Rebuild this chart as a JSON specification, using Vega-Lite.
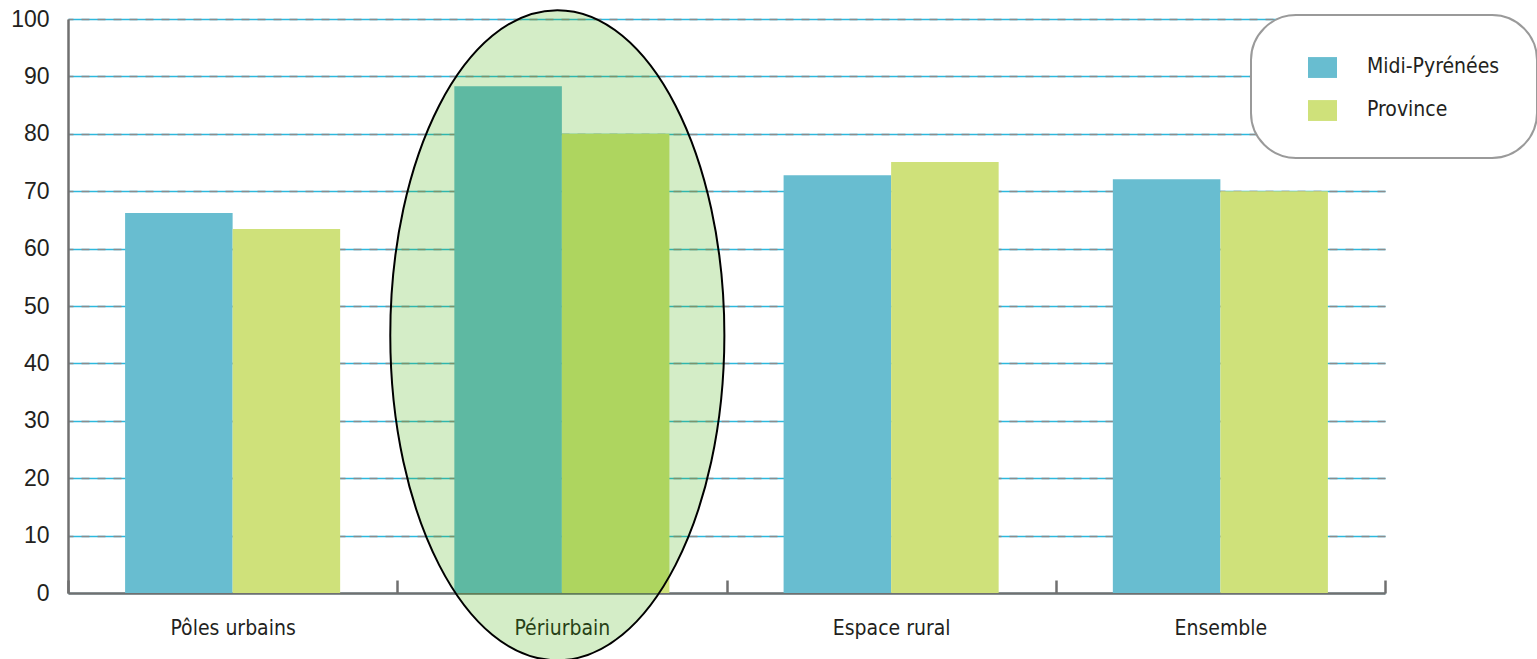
{
  "$schema": "https://vega.github.io/schema/vega-lite/v6.json",
  "width": 1317,
  "height": 574,
  "autosize": "none",
  "padding": {"left": 68, "top": 19, "right": 152, "bottom": 66},
  "background": "white",
  "datasets": {
    "bars": [
      {"category": "Pôles urbains", "series": "Midi-Pyrénées", "value": 66.2},
      {"category": "Pôles urbains", "series": "Province", "value": 63.4},
      {"category": "Périurbain", "series": "Midi-Pyrénées", "value": 88.3},
      {"category": "Périurbain", "series": "Province", "value": 80.0},
      {"category": "Espace rural", "series": "Midi-Pyrénées", "value": 72.8},
      {"category": "Espace rural", "series": "Province", "value": 75.1},
      {"category": "Ensemble", "series": "Midi-Pyrénées", "value": 72.1},
      {"category": "Ensemble", "series": "Province", "value": 70.0}
    ],
    "highlight": [
      {"category": "Périurbain", "value": 44.9}
    ]
  },
  "layer": [
    {
      "data": {"name": "bars"},
      "mark": {"type": "bar"},
      "encoding": {
        "x": {
          "field": "category",
          "type": "nominal",
          "sort": ["Pôles urbains", "Périurbain", "Espace rural", "Ensemble"],
          "scale": {"paddingInner": 0, "paddingOuter": 0},
          "axis": {
            "title": null,
            "labelAngle": 0,
            "labelFont": "Liberation Sans Narrow, DejaVu Sans Condensed, sans-serif",
            "labelFontSize": 21,
            "labelColor": "#231F20",
            "labelPadding": 37,
            "domainColor": "#707070",
            "domainWidth": 2.5,
            "tickColor": "#707070",
            "tickWidth": 2.5,
            "tickSize": -13,
            "tickBand": "extent",
            "grid": false
          }
        },
        "xOffset": {
          "field": "series",
          "type": "nominal",
          "sort": ["Midi-Pyrénées", "Province"],
          "scale": {"paddingInner": 0, "paddingOuter": 0.531}
        },
        "y": {
          "field": "value",
          "type": "quantitative",
          "scale": {"domain": [0, 100], "nice": false},
          "axis": {
            "title": null,
            "values": [0, 10, 20, 30, 40, 50, 60, 70, 80, 90, 100],
            "labelFont": "Liberation Sans, Arial, sans-serif",
            "labelFontSize": 23,
            "labelColor": "#231F20",
            "labelPadding": 19,
            "ticks": false,
            "domainColor": "#707070",
            "domainWidth": 2.5,
            "grid": true,
            "gridColor": "#2BB9DE",
            "gridWidth": 1.5
          }
        },
        "color": {
          "field": "series",
          "type": "nominal",
          "scale": {"domain": ["Midi-Pyrénées", "Province"], "range": ["#68BDD0", "#CFE17A"]},
          "legend": {
            "title": null,
            "orient": "none",
            "legendX": 1183,
            "legendY": -4,
            "direction": "vertical",
            "strokeColor": "#9a9a9a",
            "fillColor": "white",
            "cornerRadius": 45,
            "padding": 37,
            "symbolType": "M0.38,-0.65H2.38V0.79H0.38Z",
            "symbolSize": 841,
            "symbolStrokeWidth": 0,
            "symbolOpacity": 1,
            "labelFont": "Liberation Sans Narrow, DejaVu Sans Condensed, sans-serif",
            "labelFontSize": 21,
            "labelColor": "#231F20",
            "labelOffset": 50,
            "rowPadding": 17,
            "encode": {"legend": {"update": {"strokeWidth": {"value": 2}}}}
          }
        }
      }
    },
    {
      "data": {"name": "highlight"},
      "mark": {
        "type": "point",
        "shape": "M -0.528 0 A 0.514 1 0 1 1 0.5 0 A 0.514 1 0 1 1 -0.528 0 Z",
        "size": 422500,
        "filled": true,
        "fill": "#3CAD00",
        "fillOpacity": 0.22,
        "opacity": 1,
        "stroke": "black",
        "strokeWidth": 2,
        "strokeOpacity": 1,
        "clip": false
      },
      "encoding": {
        "x": {
          "field": "category",
          "type": "nominal",
          "sort": ["Pôles urbains", "Périurbain", "Espace rural", "Ensemble"]
        },
        "y": {
          "field": "value",
          "type": "quantitative",
          "axis": {
            "title": null,
            "values": [10, 20, 30, 40, 50, 60, 70, 80, 90, 100],
            "labels": false,
            "ticks": false,
            "domain": false,
            "grid": true,
            "gridColor": "#8c8c8c",
            "gridDash": [8, 8],
            "gridWidth": 1.5
          }
        }
      }
    }
  ],
  "resolve": {"axis": {"y": "independent"}},
  "config": {
    "view": {"stroke": null}
  }
}
